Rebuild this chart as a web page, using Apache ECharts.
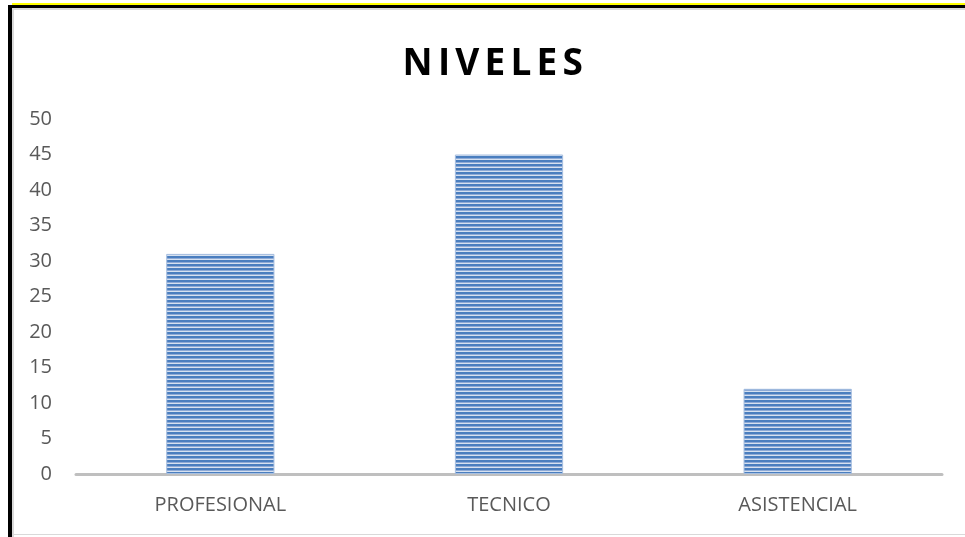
<!DOCTYPE html>
<html>
<head>
<meta charset="utf-8">
<script src="https://cdn.jsdelivr.net/npm/echarts@6/dist/echarts.min.js"></script>
<style>html,body{margin:0;padding:0;background:#fff;}#c{width:965px;height:537px;}</style>
</head>
<body>
<div id="c"></div>
<script>
const categories = ['PROFESIONAL', 'TECNICO', 'ASISTENCIAL'];
const values = [31, 45, 12];
const titleText = 'NIVELES';

const pc = document.createElement('canvas');
pc.width = 4; pc.height = 4;
const g = pc.getContext('2d');
g.fillStyle = '#d6e1f0'; g.fillRect(0, 0, 4, 4);
g.fillStyle = '#4a7ebf'; g.fillRect(0, 0, 4, 2);
g.fillStyle = '#8eaad6'; g.fillRect(0, 2, 4, 1);

const rich = {};
const letters = titleText.split('').map((ch, i) => { rich['l' + i] = { fontSize: 37, fontWeight: 'bold', fontFamily: 'Open Sans', color: '#000', padding: [0, 2.6] }; return '{l' + i + '|' + ch + '}'; }).join('');

const chart = echarts.init(document.getElementById('c'), null, { renderer: 'canvas' });
chart.setOption({
  backgroundColor: '#fff',
  animation: false,
  title: {
    text: letters,
    left: 395,
    top: 41,
    textStyle: { rich: rich, fontSize: 37, fontWeight: 'bold', fontFamily: 'Open Sans', color: '#000' }
  },
  grid: { left: 76, right: 23, top: 119, bottom: 63, containLabel: false },
  xAxis: {
    type: 'category',
    data: categories,
    axisLine: { lineStyle: { color: '#bfbfbf', width: 3 } },
    axisTick: { show: false },
    axisLabel: { color: '#595959', fontSize: 20, fontFamily: 'Open Sans', margin: 21 }
  },
  yAxis: {
    type: 'value',
    min: 0, max: 50, interval: 5,
    axisLine: { show: false },
    axisTick: { show: false },
    splitLine: { show: false },
    axisLabel: { color: '#595959', fontSize: 20, fontFamily: 'Open Sans', margin: 24 }
  },
  series: [{
    type: 'bar',
    data: values,
    barWidth: '37.5%',
    itemStyle: { color: { image: pc, repeat: 'repeat' }, borderColor: '#a7bfe0', borderWidth: 1 }
  }],
  graphic: [
    { type: 'rect', shape: { x: 12, y: 3, width: 953, height: 2 }, style: { fill: '#ffff00' }, silent: true },
    { type: 'rect', shape: { x: 8, y: 5, width: 957, height: 3 }, style: { fill: '#000' }, silent: true },
    { type: 'rect', shape: { x: 8, y: 5, width: 4, height: 532 }, style: { fill: '#000' }, silent: true },
    { type: 'rect', shape: { x: 12, y: 8, width: 953, height: 2 }, style: { fill: '#d9d9d9' }, silent: true },
    { type: 'rect', shape: { x: 12, y: 8, width: 2, height: 529 }, style: { fill: '#d9d9d9' }, silent: true },
    { type: 'rect', shape: { x: 12, y: 534, width: 953, height: 1 }, style: { fill: '#d9d9d9' }, silent: true }
  ]
});
</script>
</body>
</html>
